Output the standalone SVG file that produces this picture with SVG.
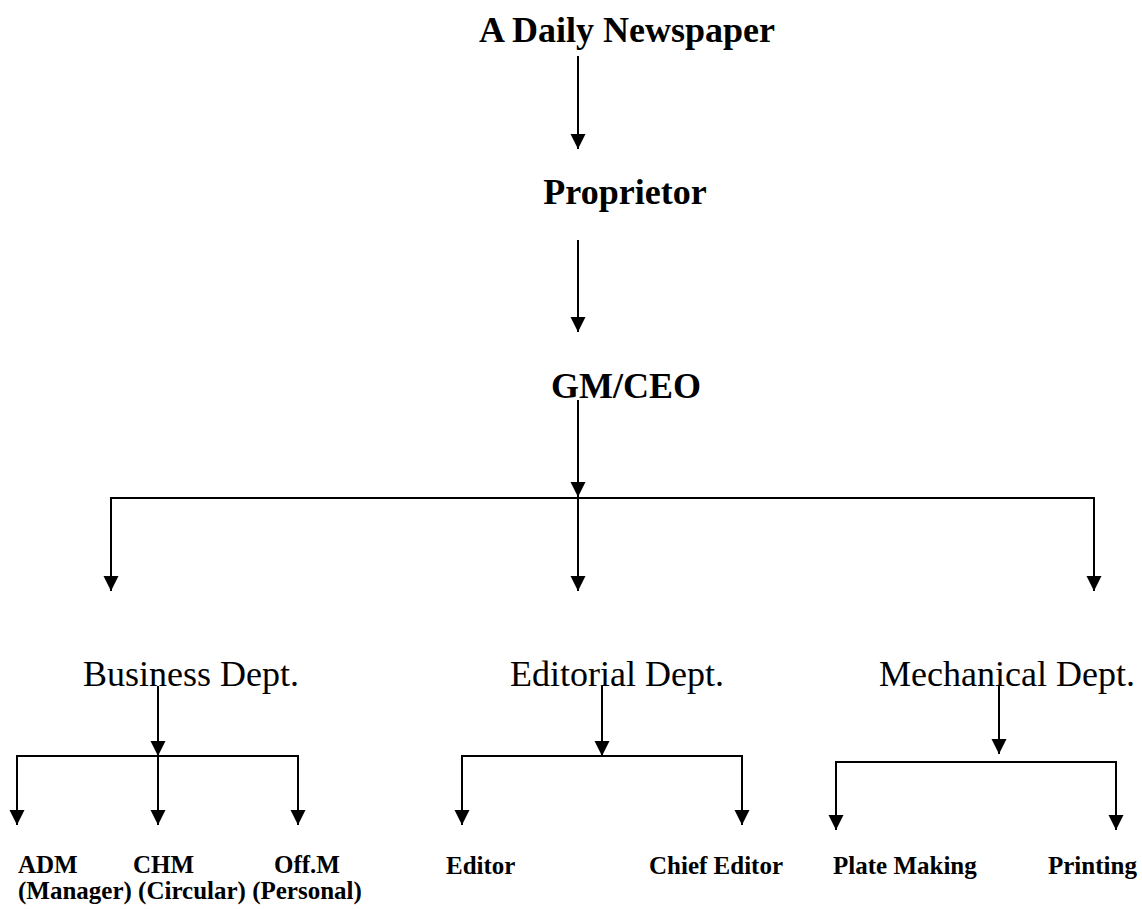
<svg xmlns="http://www.w3.org/2000/svg" width="1142" height="909" viewBox="0 0 1142 909">
<style>
.t{font-family:"Liberation Serif","Times New Roman",serif;fill:#000}
.h{font-size:36px;font-weight:bold}
.d{font-size:36px}
.s{font-size:25px;font-weight:bold}
.c line{stroke:#000;stroke-width:2;fill:none}
.c line.a{marker-end:url(#ah)}
</style>
<defs>
<marker id="ah" markerUnits="userSpaceOnUse" markerWidth="16" markerHeight="16" refX="15" refY="7.5" orient="auto">
<path d="M0,0 L15,7.5 L0,15 Z" fill="#000"/>
</marker>
</defs>
<rect width="1142" height="909" fill="#fff"/>
<g id="connectors" class="c">
<line class="a" x1="578" y1="56" x2="578" y2="149"/>
<line class="a" x1="578" y1="240" x2="578" y2="332"/>
<line class="a" x1="578" y1="400" x2="578" y2="497"/>
<line x1="110" y1="498" x2="1095" y2="498"/>
<line class="a" x1="111" y1="497" x2="111" y2="591"/>
<line class="a" x1="578" y1="497" x2="578" y2="591"/>
<line class="a" x1="1094" y1="497" x2="1094" y2="591"/>
<line class="a" x1="158" y1="686" x2="158" y2="756"/>
<line x1="16" y1="756" x2="299" y2="756"/>
<line class="a" x1="17" y1="755" x2="17" y2="825"/>
<line class="a" x1="158" y1="755" x2="158" y2="825"/>
<line class="a" x1="298" y1="755" x2="298" y2="825"/>
<line class="a" x1="602" y1="686" x2="602" y2="756"/>
<line x1="461" y1="756" x2="743" y2="756"/>
<line class="a" x1="462" y1="755" x2="462" y2="825"/>
<line class="a" x1="742" y1="755" x2="742" y2="825"/>
<line class="a" x1="999" y1="686" x2="999" y2="754"/>
<line x1="835" y1="762" x2="1117" y2="762"/>
<line class="a" x1="836" y1="761" x2="836" y2="830"/>
<line class="a" x1="1116" y1="761" x2="1116" y2="830"/>
</g>
<g id="newspaper"><text class="t h" x="627" y="42" text-anchor="middle">A Daily Newspaper</text></g>
<g id="proprietor"><text class="t h" x="625" y="204" text-anchor="middle">Proprietor</text></g>
<g id="gmceo"><text class="t h" x="626" y="398" text-anchor="middle">GM/CEO</text></g>
<g id="business"><text class="t d" x="83" y="686">Business Dept.</text></g>
<g id="editorial"><text class="t d" x="510" y="686">Editorial Dept.</text></g>
<g id="mechanical"><text class="t d" x="879" y="686">Mechanical Dept.</text></g>
<g id="adm"><text class="t s" x="18" y="873">ADM</text></g>
<g id="chm"><text class="t s" x="133" y="873">CHM</text></g>
<g id="offm"><text class="t s" x="274" y="873">Off.M</text></g>
<g id="subtitles"><text class="t s" x="18" y="899" xml:space="preserve">(Manager) (Circular) (Personal)</text></g>
<g id="editor"><text class="t s" x="446" y="874">Editor</text></g>
<g id="chiefeditor"><text class="t s" x="649" y="874">Chief Editor</text></g>
<g id="platemaking"><text class="t s" x="833" y="874">Plate Making</text></g>
<g id="printing"><text class="t s" x="1048" y="874">Printing</text></g>
</svg>
